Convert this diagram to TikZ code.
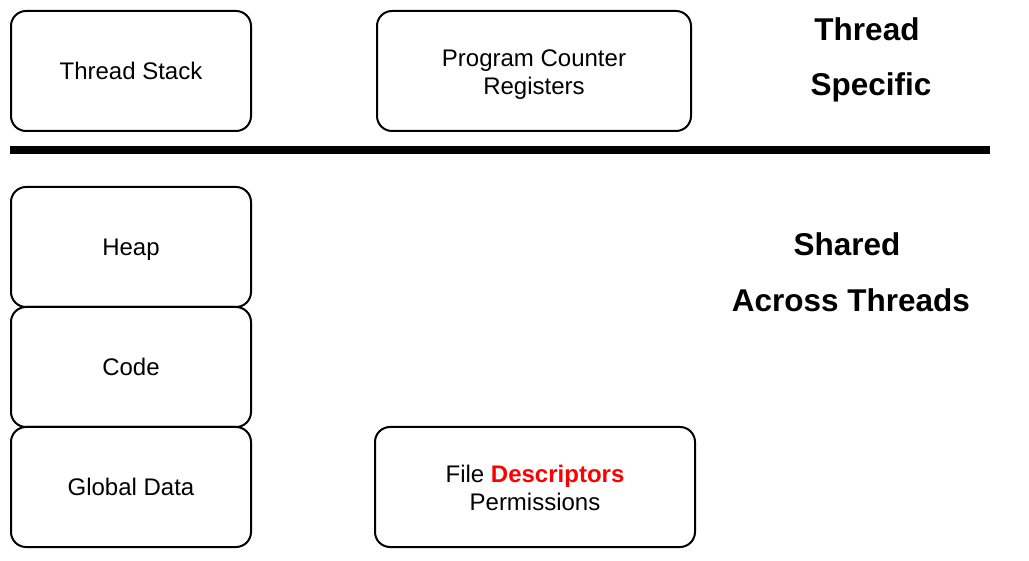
\documentclass[tikz,border=0pt]{standalone}
\usepackage{fontspec}
\setmainfont{Liberation Sans}
\definecolor{descred}{RGB}{255,0,0}

\begin{document}
\begin{tikzpicture}[x=1pt,y=-1pt,
  block/.style={draw,line width=2pt,rounded corners=15pt,minimum width=240pt,minimum height=120pt,
    inner sep=0pt,align=center,text height=18pt,text depth=0pt,font=\fontsize{24}{28}\selectfont},
  twoline/.style={text height=50pt,text depth=3pt},
  heading/.style={anchor=base,font=\fontsize{31.5}{36}\selectfont\bfseries}]
\useasboundingbox (0,0) rectangle (1029,561);
% thread specific
\node[block] (stack) at (131,71) {Thread Stack};
\node[block,twoline,minimum width=314pt] (pc) at (534,71) {Program Counter\\Registers};
\node[heading] (thread) at (867,41) {Thread};
\node[heading] (specific) at (871,96) {Specific};
% separator
\coordinate (sepL) at (10,150);
\coordinate (sepR) at (990,150);
\draw[line width=8pt] (sepL) -- (sepR);
% shared
\node[block] (heap) at (131,247) {Heap};
\node[block] (code) at (131,367) {Code};
\node[block] (global) at (131,487) {Global Data};
\node[block,twoline,minimum width=320pt] (files) at (535,487) {File \textcolor{descred}{\bfseries Descriptors}\\Permissions};
\node[heading] (shared) at (847,256) {Shared};
\node[heading] (across) at (851,312) {Across Threads};
\end{tikzpicture}
\end{document}
